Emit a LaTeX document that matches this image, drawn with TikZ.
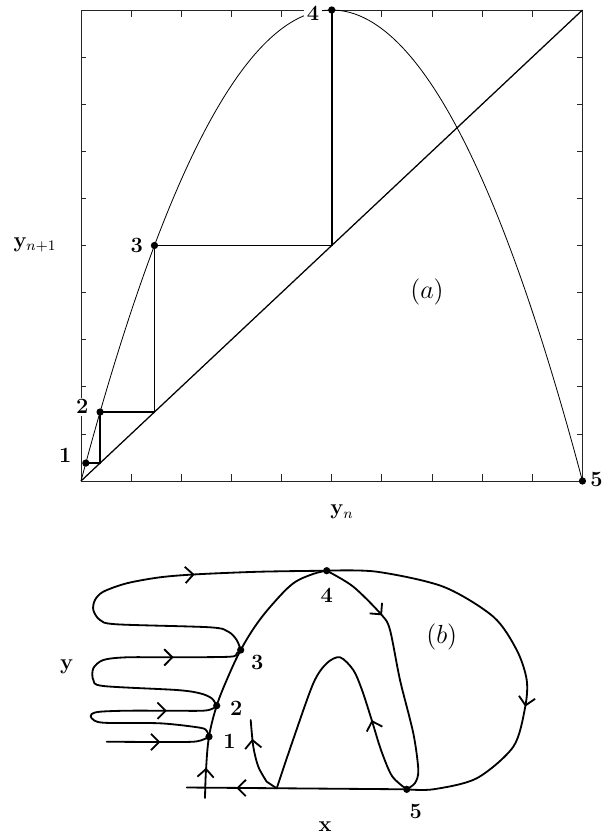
\documentclass[tikz,border=0pt]{standalone}
\usepackage{amsmath}
\usetikzlibrary{arrows.meta,positioning,decorations.markings}
\tikzset{
  >=Latex,
  frame/.style={line width=0.5pt, draw=black!85},
  tickmark/.style={line width=0.4pt, draw=black!85},
  mapcurve/.style={line width=0.45pt},
  diagline/.style={line width=0.7pt},
  cobweb/.style={line width=1pt},
  dot/.style={circle, fill, inner sep=0pt, minimum size=4pt},
  num/.style={font=\large\bfseries, inner sep=0pt},
  axlab/.style={font=\large},
  flow/.style={line width=1pt, line cap=round, line join=round},
  midarrow/.style={postaction={decorate, decoration={markings,
    mark=at position #1 with {\arrow{Straight Barb[length=4.5pt,width=9pt]}}}}}
}

\begin{document}
\begin{tikzpicture}[x=0.55pt, y=-0.55pt]
\useasboundingbox (0,0) rectangle (602,836);

% (a) the map and its cobweb
\begin{scope}[shift={(81,481)}, x=275.8pt, y=259.05pt]
  \draw[frame] (0,0) rectangle (1,1);
  \foreach \t in {0.1,0.2,...,0.9} {
    \draw[tickmark] (\t,0) -- ++(0,3.8pt) (\t,1) -- ++(0,-3.8pt)
      (0,\t) -- ++(2.8pt,0) (1,\t) -- ++(-2.8pt,0);
  }
  \draw[mapcurve] plot[domain=0:1, samples=120, smooth] (\x,{4*\x*(1-\x)});
  \draw[diagline] (0,0) -- (1,1);
  \node[dot] (d1) at (0.009607,0.038060) {};
  \node[dot] (d2) at (0.038060,0.146447) {};
  \node[dot] (d3) at (0.146447,0.5) {};
  \node[dot] (d4) at (0.5,1) {};
  \node[dot] (d5) at (1,0) {};
  \coordinate (c2) at (0.038060,0.038060);
  \coordinate (c3) at (0.146447,0.146447);
  \coordinate (c4) at (0.5,0.5);
  \draw[cobweb] (d1.center) -- (c2) -- (d2.center) -- (c3) -- (d3.center) -- (c4) -- (d4.center);
  \node[num, left=5.5pt of d1, yshift=4.3pt] (n1) {1};
  \node[num, fill=white, inner sep=1pt, left=3pt of d2, yshift=3pt] (n2) {2};
  \node[num, left=4pt of d3] (n3) {3};
  \node[num, fill=white, inner sep=1.5pt, left=3pt of d4, yshift=-1.8pt] (n4) {4};
  \node[num, right=2pt of d5, yshift=1pt] (n5) {5};
\end{scope}
\node[axlab] (ylabA) at (35,245) {$\mathbf{y}_{n+1}$};
\node[axlab] (xlabA) at (342,512) {$\mathbf{y}_n$};
\node[font=\Large] (tagA) at (427,292) {$(a)$};

% (b) the flow picture
\node[dot] (q1) at (209,736.7) {};
\node[dot] (q2) at (216.7,705.7) {};
\node[dot] (q3) at (240.7,650) {};
\node[dot] (q4) at (326.7,570.7) {};
\node[dot] (q5) at (406.7,789.3) {};
\coordinate (cbot) at (205,798);
\coordinate (inend) at (250.7,720);
\coordinate (botend) at (186.7,787.5);
\coordinate (instart) at (106.7,741.7);

\draw[flow, midarrow=0.11] plot[smooth, tension=0.6] coordinates {(cbot) (206,770) (q1.center)
  (q2.center) (228,677) (q3.center) (256,625) (273.3,603.3) (293.3,583.3) (313,574) (q4.center)};
\draw[flow, midarrow=0.28] plot[smooth] coordinates {(q4.center) (353.3,586.7) (381.7,615)
  (390,630) (400,680) (413.3,733.3) (418.3,770) (415,783) (q5.center)};
\draw[flow, midarrow=0.21, midarrow=0.95] plot[smooth] coordinates {(q5.center) (392,776)
  (381,750) (371.7,720) (362,690) (353.3,670) (340,657.3) (326.7,663.3) (313.3,683.3)
  (293,740) (276.7,788.3)} -- plot[smooth] coordinates {(266.7,781.7) (258.3,766.7)
  (253.3,746.7) (inend)};
\draw[flow, midarrow=0.63] plot[smooth] coordinates {(q4.center) (376.7,571.7) (443.3,586.7)
  (493.3,616.7) (516.7,650) (526.7,680) (525,708) (513.3,746.7) (476.7,778.3) (433.3,789.3)
  (q5.center)};
\draw[flow, midarrow=0.77] (q5) -- (botend);
\draw[flow, midarrow=0.68] plot[smooth] coordinates {(q3.center) (236.7,640) (228.3,631.7)
  (210,627.3) (116.7,624.3) (100,620) (93.3,610) (95,600) (103.3,591.7) (126.7,583.3)
  (160,577.3) (196.7,574.3) (260,571.7) (q4.center)};
\draw[flow, midarrow=0.765] plot[smooth] coordinates {(q2.center) (211.7,698.3) (200,693.3)
  (176.7,690) (103.3,686) (93.3,680) (93.3,668.3) (103.3,660) (126.7,657.3) (173.3,657.3)
  (230,656.7) (236.7,653.3) (q3.center)};
\draw[flow, midarrow=0.8] plot[smooth] coordinates {(q1.center) (206.7,731) (200,727.7)
  (160,723.3) (103.3,722.7) (91.7,718.3) (91.7,714) (100,711.7) (126.7,710.7) (166.7,710.7)
  (203.3,710.7) (213.3,708.3) (q2.center)};
\draw[flow, midarrow=0.52] plot[smooth] coordinates {(instart) (160,742) (196,741.5) (q1.center)};

\node[num, right=5.5pt of q1, yshift=-2.7pt] (m1) {1};
\node[num, right=5pt of q2, yshift=-1.4pt] (m2) {2};
\node[num, below right=1pt and 4pt of q3] (m3) {3};
\node[num, below=7pt of q4] (m4) {4};
\node[num, below=6pt of q5, xshift=5pt] (m5) {5};
\node[axlab] (ylabB) at (66.7,666.7) {$\mathbf{y}$};
\node[axlab] (xlabB) at (325,827) {$\mathbf{x}$};
\node[font=\Large] (tagB) at (441.7,636.7) {$(b)$};
\end{tikzpicture}
\end{document}
